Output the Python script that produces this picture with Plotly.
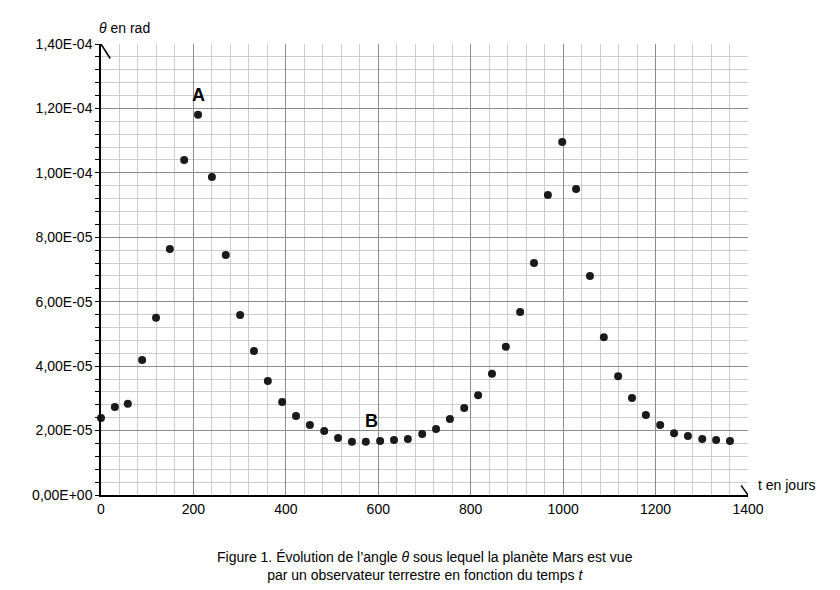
import plotly.graph_objects as go

t_days = [0,30,58,89,119,149,180,210,240,270,301,331,361,392,422,452,483,513,543,573,604,634,664,695,725,755,786,816,846,876,907,937,967,998,1028,1058,1088,1119,1149,1179,1210,1240,1270,1301,1331,1361]
theta = [2.39e-5,2.73e-5,2.83e-5,4.19e-5,5.5e-5,7.64e-5,1.04e-4,1.18e-4,9.87e-5,7.45e-5,5.59e-5,4.47e-5,3.54e-5,2.89e-5,2.45e-5,2.17e-5,1.99e-5,1.77e-5,1.65e-5,1.65e-5,1.68e-5,1.71e-5,1.74e-5,1.89e-5,2.05e-5,2.36e-5,2.7e-5,3.1e-5,3.76e-5,4.6e-5,5.68e-5,7.2e-5,9.31e-5,1.096e-4,9.5e-5,6.8e-5,4.9e-5,3.69e-5,3.01e-5,2.48e-5,2.17e-5,1.92e-5,1.83e-5,1.74e-5,1.71e-5,1.68e-5]
y_ticks = [0,2e-5,4e-5,6e-5,8e-5,1e-4,1.2e-4,1.4e-4]
y_labels = ["0,00E+00","2,00E-05","4,00E-05","6,00E-05","8,00E-05","1,00E-04","1,20E-04","1,40E-04"]
x_ticks = [0,200,400,600,800,1000,1200,1400]

fig = go.Figure(go.Scatter(x=t_days, y=theta, mode="markers",
                           marker=dict(color="#1a1a1a", size=8), showlegend=False, cliponaxis=False))
font = dict(family="Liberation Sans, Arial", size=14, color="black")
fig.update_layout(width=840, height=590, margin=dict(l=93, r=100, t=36, b=103, autoexpand=False),
                  plot_bgcolor="white", paper_bgcolor="white", font=font)
fig.update_xaxes(range=[0,1400], tickvals=x_ticks, ticktext=[str(v) for v in x_ticks],
                 showgrid=True, gridcolor="#8c8c8c", gridwidth=1,
                 minor=dict(dtick=40, showgrid=True, gridcolor="#cccccc", gridwidth=1),
                 showline=True, linecolor="black", linewidth=1.5, zeroline=False, ticks="", ticklen=0)
fig.update_yaxes(range=[0,1.4e-4], tickvals=y_ticks, ticktext=y_labels,
                 showgrid=True, gridcolor="#8c8c8c", gridwidth=1,
                 minor=dict(dtick=4e-6, showgrid=True, gridcolor="#cccccc", gridwidth=1,
                            ticks="outside", ticklen=4, tickcolor="black"),
                 showline=True, linecolor="black", linewidth=1.5, zeroline=False,
                 ticks="outside", ticklen=4, tickcolor="black")
# open chevron arrow at top of y axis
fig.add_shape(type="path", xref="x", yref="y",
              path="M -20 1.355e-4 L 0 1.4e-4 L 20 1.355e-4", line=dict(color="black", width=1.5))
fig.add_shape(type="path", xref="x", yref="y",
              path="M 1385 -3e-6 L 1400 0 L 1385 3e-6", line=dict(color="black", width=1.5))
fig.add_annotation(x=0, y=1.4e-4, xref="x", yref="y", text="<i>θ</i> en rad", showarrow=False,
                   xanchor="left", yanchor="bottom", xshift=-4, yshift=6)
fig.add_annotation(x=1400, y=0, xref="x", yref="y", text="t en jours", showarrow=False,
                   xanchor="left", yanchor="bottom", xshift=8, yshift=0)
fig.add_annotation(x=210, y=1.18e-4, text="<b>A</b>", showarrow=False, yshift=20, font=dict(size=18))
fig.add_annotation(x=598, y=1.68e-5, text="<b>B</b>", showarrow=False, yshift=20, xshift=-6, font=dict(size=18))
fig.add_annotation(x=0.5, y=0, xref="paper", yref="paper", yshift=-52, showarrow=False,
                   text="Figure 1. Évolution de l’angle <i>θ</i> sous lequel la planète Mars est vue<br>par un observateur terrestre en fonction du temps <i>t</i>",
                   font=dict(size=14), yanchor="top", align="center")
fig.write_html("out.html")
